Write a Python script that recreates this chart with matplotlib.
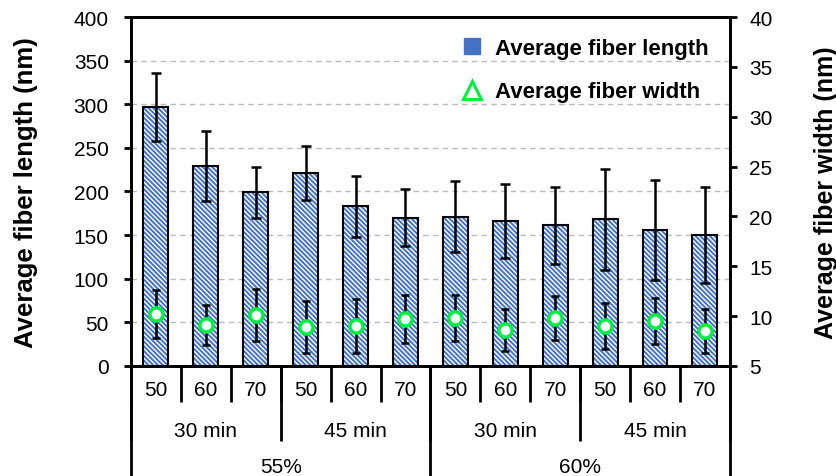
import matplotlib.pyplot as plt
from matplotlib.lines import Line2D
import numpy as np

plt.rcParams['font.family'] = ['Liberation Sans', 'DejaVu Sans']
plt.rcParams['hatch.linewidth'] = 1.0

# =========================
# Data
# =========================

temps = ['50', '60', '70', '50', '60', '70', '50', '60', '70', '50', '60', '70']
times = ['30 min', '45 min', '30 min', '45 min']
concs = ['55%', '60%']

length_mean = [297, 229, 199, 221, 183, 170, 171, 166, 161, 168, 156, 150]
length_sd = [39, 40, 29, 31, 35, 33, 41, 42, 44, 58, 57, 55]

width_mean = [10.2, 9.1, 10.1, 8.9, 9.0, 9.7, 9.8, 8.6, 9.8, 9.0, 9.5, 8.5]
width_sd = [2.4, 2.0, 2.6, 2.6, 2.7, 2.4, 2.3, 2.1, 2.2, 2.3, 2.3, 2.2]

blue = '#4472C4'
green = '#00EE44'

# =========================
# Figure
# =========================

fig = plt.figure(figsize=(8.37, 4.77), dpi=100)
ax = fig.add_axes([0.1565, 0.231, 0.7155, 0.731])
ax2 = ax.twinx()

x = np.arange(len(length_mean))

# hatched bars: blue face with white stripes, then a black outline on top
ax.bar(x, length_mean, width=0.5, color=blue, edgecolor='white',
       hatch='\\' * 7, linewidth=0, zorder=2)
ax.bar(x, length_mean, width=0.5, facecolor='none', edgecolor='black',
       linewidth=1.5, zorder=3)
ax.errorbar(x, length_mean, yerr=length_sd, fmt='none', ecolor='black',
            elinewidth=1.8, capsize=3.5, capthick=1.8, zorder=4)

ax2.errorbar(x, width_mean, yerr=width_sd, fmt='none', ecolor='black',
             elinewidth=1.8, capsize=3, capthick=1.8, zorder=4)
ax2.plot(x, width_mean, 'o', ms=9.5, mfc='white', mec=green, mew=2.5,
         linestyle='none', zorder=5)

ax.set_xlim(-0.5, len(x) - 0.5)
ax.set_ylim(0, 400)
ax.set_yticks(range(0, 401, 50))
ax2.set_ylim(5, 40)
ax2.set_yticks(range(5, 41, 5))

for y in range(50, 400, 50):
    ax.axhline(y, color='#BBBBBB', linestyle=(0, (4, 3)), linewidth=1, zorder=1)

ax.set_xticks([])
for a in (ax, ax2):
    for s in a.spines.values():
        s.set_linewidth(2)
ax.tick_params(axis='y', labelsize=15, width=2, length=5, pad=11)
ax2.tick_params(axis='y', labelsize=15, width=2, length=5, pad=9)

ax.set_ylabel('Average fiber length (nm)', fontsize=18.5, fontweight='bold')
ax2.set_ylabel('Average fiber width (nm)', fontsize=18, fontweight='bold')
ax.yaxis.set_label_coords(-0.155, 0.5)
ax2.yaxis.set_label_coords(1.14, 0.5)

# =========================
# Grouped category axis
# =========================

trans = ax.get_xaxis_transform()

def sep(xpos, ybottom):
    ax.plot([xpos, xpos], [0, ybottom], color='black', linewidth=2,
            transform=trans, clip_on=False, solid_capstyle='butt')

for i, t in enumerate(temps):
    ax.text(i, -0.068, t, transform=trans, ha='center', va='center',
            fontsize=15)
for b in np.arange(-0.5, len(x), 1):
    sep(b, -0.105)

for j, t in enumerate(times):
    ax.text(3 * j + 1, -0.185, t, transform=trans, ha='center', va='center',
            fontsize=15)
for b in np.arange(-0.5, len(x), 3):
    sep(b, -0.215)

for k, t in enumerate(concs):
    ax.text(6 * k + 2.5, -0.29, t, transform=trans, ha='center',
            va='center', fontsize=15)
for b in np.arange(-0.5, len(x), 6):
    sep(b, -0.32)

# =========================
# Legend
# =========================

handles = [
    Line2D([], [], marker='s', color=blue, linestyle='none', ms=12),
    Line2D([], [], marker='^', mfc='none', mec=green, mew=2.2,
           linestyle='none', ms=13),
]
ax2.legend(handles, ['Average fiber length', 'Average fiber width'],
           loc='upper right', frameon=False, prop={'weight': 'bold', 'size': 16},
           labelspacing=1.0, handletextpad=0.45, borderaxespad=0.65,
           handlelength=1.2, borderpad=0.3)

fig.savefig('out.png', dpi=100)
